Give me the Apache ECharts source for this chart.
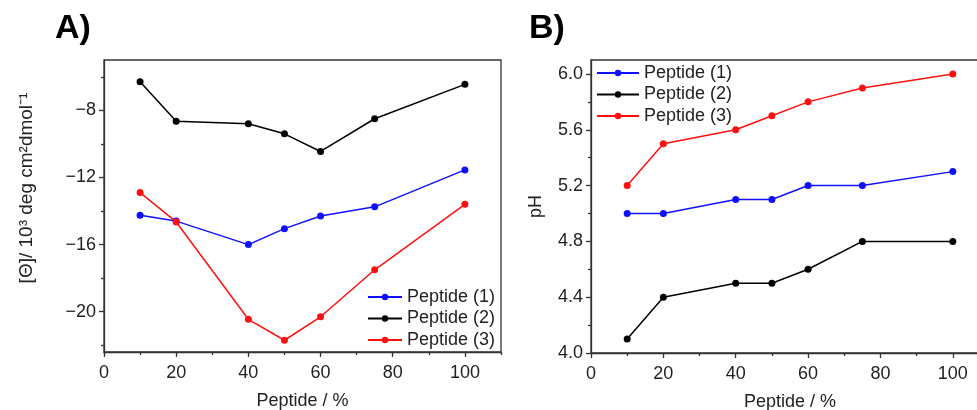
<!DOCTYPE html>
<html>
<head>
<meta charset="utf-8">
<script src="https://cdn.jsdelivr.net/npm/echarts@6/dist/echarts.min.js"></script>
<style>
  html, body { margin: 0; padding: 0; background: #fff; }
  #chart { width: 977px; height: 410px; }
</style>
</head>
<body>
<div id="chart"></div>
<script>
  // peptide content (%) shared by both panels
  var peptidePct = [10, 20, 40, 50, 60, 75, 100];

  // panel A: mean residue ellipticity, 10^3 deg cm2 dmol-1
  var thetaP1 = [-14.25, -14.6, -16.0, -15.05, -14.3, -13.75, -11.55];
  var thetaP2 = [-6.3, -8.65, -8.8, -9.4, -10.45, -8.5, -6.45];
  var thetaP3 = [-12.9, -14.65, -20.45, -21.7, -20.3, -17.5, -13.6];

  // panel B: pH
  var phP1 = [5.0, 5.0, 5.1, 5.1, 5.2, 5.2, 5.3];
  var phP2 = [4.1, 4.4, 4.5, 4.5, 4.6, 4.8, 4.8];
  var phP3 = [5.2, 5.5, 5.6, 5.7, 5.8, 5.9, 6.0];

  var seriesNames = ['Peptide (1)', 'Peptide (2)', 'Peptide (3)'];
  var seriesColors = ['#1010ff', '#000000', '#ff1010'];

  // tick values
  var xTicks = [0, 20, 40, 60, 80, 100];
  var xMinor = [10, 30, 50, 70, 90, 110];
  var thetaTicks = [-20, -16, -12, -8];
  var thetaMinor = [-22, -18, -14, -10, -6];
  var phTicks = [4.0, 4.4, 4.8, 5.2, 5.6, 6.0];
  var phMinor = [4.2, 4.6, 5.0, 5.4, 5.8];

  var FONT = 'Liberation Sans';
  var AX = '#333';

  function pairs(ys) {
    return peptidePct.map(function (x, i) { return [x, ys[i]]; });
  }

  function mainAxis(pos, grid, min, max, ticks, fmt, name, nameGap, nameFont, namePad) {
    return {
      type: 'value', gridIndex: grid, position: pos, min: min, max: max,
      name: name, nameLocation: 'middle', nameGap: nameGap,
      nameRotate: (pos === 'left') ? 90 : 0,
      nameTextStyle: { fontFamily: FONT, fontSize: nameFont, color: '#222', padding: namePad || 0 },
      axisLine: { show: true, lineStyle: { color: AX, width: 1.3 } },
      axisTick: { show: true, customValues: ticks, length: 5, lineStyle: { color: AX, width: 1.3 } },
      axisLabel: { customValues: ticks, fontFamily: FONT, fontSize: 18, color: '#222',
        margin: (pos === 'left') ? 8 : 12, formatter: fmt },
      splitLine: { show: false }
    };
  }

  function minorAxis(pos, grid, min, max, ticks) {
    return {
      type: 'value', gridIndex: grid, position: pos, min: min, max: max,
      axisLine: { show: false },
      axisTick: { show: true, customValues: ticks, length: 3, lineStyle: { color: AX, width: 1.3 } },
      axisLabel: { show: false },
      splitLine: { show: false }
    };
  }

  function fmtInt(v) { return String(v).replace('-', '\u2212'); }
  function fmtOne(v) { return v.toFixed(1); }

  function lineSeries(i, ys, xi, yi) {
    return {
      name: seriesNames[i], type: 'line', xAxisIndex: xi, yAxisIndex: yi,
      data: pairs(ys), symbol: 'circle', symbolSize: 7,
      lineStyle: { color: seriesColors[i], width: 1.5 },
      itemStyle: { color: seriesColors[i] }
    };
  }

  var chart = echarts.init(document.getElementById('chart'));
  chart.setOption({
    animation: false,
    backgroundColor: '#fff',
    title: [
      { text: 'A)', left: 50, top: 7, textStyle: { fontFamily: FONT, fontSize: 34, fontWeight: 'bold', color: '#000' } },
      { text: 'B)', left: 524, top: 7, textStyle: { fontFamily: FONT, fontSize: 34, fontWeight: 'bold', color: '#000' } }
    ],
    grid: [
      { left: 104, right: 476, top: 60, bottom: 58, outerBoundsMode: 'none', containLabel: false,
        show: true, borderColor: AX, borderWidth: 1.3, backgroundColor: 'transparent' },
      { left: 591, right: -12, top: 60, bottom: 57, outerBoundsMode: 'none', containLabel: false,
        show: true, borderColor: AX, borderWidth: 1.3, backgroundColor: 'transparent' }
    ],
    legend: [
      {
        data: seriesNames.slice(), orient: 'vertical', left: 362, top: 283,
        itemWidth: 34, itemHeight: 8, itemGap: 3.5,
        textStyle: { fontFamily: FONT, fontSize: 18, color: '#222' }
      },
      {
        data: seriesNames.slice(), orient: 'vertical', left: 591, top: 59,
        itemWidth: 42, itemHeight: 8, itemGap: 3.5,
        textStyle: { fontFamily: FONT, fontSize: 18, color: '#222' }
      }
    ],
    xAxis: [
      mainAxis('bottom', 0, 0, 110, xTicks, fmtInt, 'Peptide / %', 40, 18),
      minorAxis('bottom', 0, 0, 110, xMinor),
      mainAxis('bottom', 1, 0, 110, xTicks, fmtInt, 'Peptide / %', 40, 18),
      minorAxis('bottom', 1, 0, 110, xMinor)
    ],
    yAxis: [
      mainAxis('left', 0, -22.4, -5, thetaTicks, fmtInt,
        '[\u0398]/ 10\u00b3 deg cm\u00b2dmol\u207b\u00b9', 68, 19, [0, 0, 0, 36]),
      minorAxis('left', 0, -22.4, -5, thetaMinor),
      mainAxis('left', 1, 4.0, 6.1, phTicks, fmtOne, 'pH', 46, 18),
      minorAxis('left', 1, 4.0, 6.1, phMinor)
    ],
    series: [
      lineSeries(0, thetaP1, 0, 0),
      lineSeries(1, thetaP2, 0, 0),
      lineSeries(2, thetaP3, 0, 0),
      lineSeries(0, phP1, 2, 2),
      lineSeries(1, phP2, 2, 2),
      lineSeries(2, phP3, 2, 2)
    ]
  });
</script>
</body>
</html>
